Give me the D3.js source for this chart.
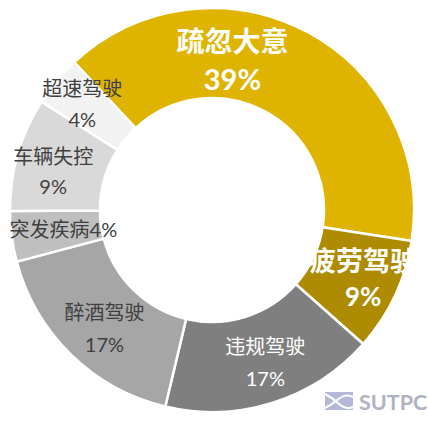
<!DOCTYPE html>
<html><head><meta charset="utf-8">
<script src="https://cdn.jsdelivr.net/npm/d3@7"></script>
<style>
html,body{margin:0;padding:0;background:#fff;}
svg{display:block;}
text{font-family:"Lato","Noto Sans CJK SC",sans-serif;}
</style></head>
<body>
<svg id="chart" width="428" height="428"></svg>
<script>
// ---- data ----
const categories = ["疏忽大意","疲劳驾驶","违规驾驶","醉酒驾驶","突发疾病","车辆失控","超速驾驶"];
const values = [39, 9, 17, 17, 4, 9, 4];
const percentLabels = ["39%","9%","17%","17%","4%","9%","4%"];

// ---- styles / layout (not data) ----
const colors = ["#DEB400","#AE8B00","#7F7F7F","#A6A6A6","#BFBFBF","#D9D9D9","#F2F2F2"];
const textColors = ["#fff","#fff","#fff","#404040","#404040","#404040","#404040"];
const bold = [true,true,false,false,false,false,false];
const nameSize = [28,27,20,20,20,20,20];
const pctSize = [29,26,20,20,20,20,20];
const lineGap = [49,45,40,40,0,38,39];
const singleLine = [false,false,false,false,true,false,false];
const labelOffset = [[-53,-30],[9,-16],[6,-14],[2,-10],[7,-2],[-8,-10],[-9,-22]];

const cx = 212, cy = 210, rOuter = 202, rInner = 112;
const svg = d3.select("#chart");
const g = svg.append("g").attr("transform", `translate(${cx},${cy})`);

const startDeg = -43;
const pie = d3.pie().sort(null).value(d => d.value)
  .startAngle(startDeg * Math.PI/180)
  .endAngle((startDeg + 360) * Math.PI/180);
const data = categories.map((c,i) => ({name:c, value:values[i], pct:percentLabels[i], i}));
const arcs = pie(data);
const arc = d3.arc().innerRadius(rInner).outerRadius(rOuter);
const labelArc = d3.arc().innerRadius(157).outerRadius(157);

g.selectAll("path.slice").data(arcs).join("path")
  .attr("class","slice")
  .attr("d", arc)
  .attr("fill", d => colors[d.data.i])
  .attr("stroke", "#fff")
  .attr("stroke-width", 2.5)
  .attr("stroke-linejoin","miter");

const labels = g.selectAll("g.lbl").data(arcs).join("g").attr("class","lbl")
  .attr("transform", d => {
    const [x,y] = labelArc.centroid(d);
    const o = labelOffset[d.data.i];
    return `translate(${x+o[0]},${y+o[1]})`;
  });

labels.append("text")
  .attr("text-anchor","middle")
  .attr("dominant-baseline","central")
  .attr("fill", d => textColors[d.data.i])
  .attr("font-weight", d => bold[d.data.i] ? "bold" : "normal")
  .attr("font-size", d => nameSize[d.data.i])
  .text(d => singleLine[d.data.i] ? d.data.name + d.data.pct : d.data.name);

labels.filter(d => !singleLine[d.data.i]).append("text")
  .attr("text-anchor","middle")
  .attr("y", d => lineGap[d.data.i])
  .attr("fill", d => textColors[d.data.i])
  .attr("font-weight", d => bold[d.data.i] ? "bold" : "normal")
  .attr("font-size", d => pctSize[d.data.i])
  .text(d => d.data.pct);

// ---- watermark ----
const wm = svg.append("g").attr("transform","translate(325,392)");
wm.append("rect").attr("width",28).attr("height",18).attr("fill","#B3B8DA");
wm.append("path").attr("d","M0,2 C8,6 12,10 14,12 C18,16 24,17 28,15").attr("fill","none").attr("stroke","#fff").attr("stroke-width",2);
wm.append("path").attr("d","M0,16 C8,12 12,8 15,6 C19,3 24,3 28,5").attr("fill","none").attr("stroke","#fff").attr("stroke-width",2);
svg.append("text").attr("x",359).attr("y",410)
  .attr("font-size",21.5).attr("font-weight","bold").attr("fill","#AFB2C2")
  .text("SUTPC");
</script>
</body></html>
